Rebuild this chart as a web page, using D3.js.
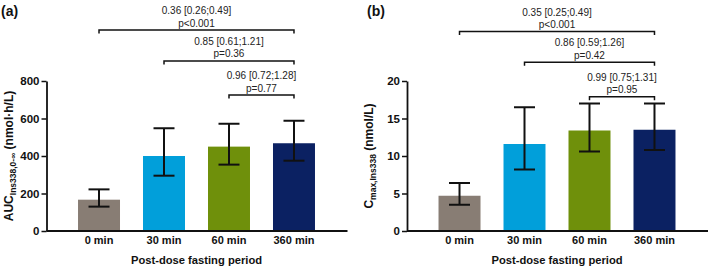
<!DOCTYPE html>
<html>
<head>
<meta charset="utf-8">
<script src="https://cdn.jsdelivr.net/npm/d3@7"></script>
<style>
  html, body { margin: 0; padding: 0; background: #fff; }
  svg { display: block; font-family: "Liberation Sans", Arial, Helvetica, sans-serif; }
</style>
</head>
<body>
<svg id="chart" width="709" height="268"></svg>
<script>
// ---------- DATA ----------
const categories = ["0 min", "30 min", "60 min", "360 min"];
const barColors = ["#887d74", "#019fda", "#6f900b", "#0b2162"];

// Panel (a): AUC
const aucMean  = [167, 400, 450, 468];
const aucLower = [130, 295, 354, 375];
const aucUpper = [222, 548, 572, 588];
const aucTicks = [0, 200, 400, 600, 800];
const aucBrackets = [
  { from: "0 min",  to: "360 min", line1: "0.36 [0.26;0.49]", line2: "p<0.001", level: 1072 },
  { from: "30 min", to: "360 min", line1: "0.85 [0.61;1.21]", line2: "p=0.36",  level: 907 },
  { from: "60 min", to: "360 min", line1: "0.96 [0.72;1.28]", line2: "p=0.77",  level: 725 }
];

// Panel (b): Cmax
const cmaxMean  = [4.7, 11.6, 13.4, 13.5];
const cmaxLower = [3.5, 8.2, 10.6, 10.8];
const cmaxUpper = [6.4, 16.5, 17.0, 17.0];
const cmaxTicks = [0, 5, 10, 15, 20];
const cmaxBrackets = [
  { from: "0 min",  to: "360 min", line1: "0.35 [0.25;0.49]", line2: "p<0.001", level: 26.6 },
  { from: "30 min", to: "360 min", line1: "0.86 [0.59;1.26]", line2: "p=0.42",  level: 22.5 },
  { from: "60 min", to: "360 min", line1: "0.99 [0.75;1.31]", line2: "p=0.95",  level: 17.9 }
];

const xTitle = "Post-dose fasting period";

// ---------- DRAW ----------
const svg = d3.select("#chart");

function panel(opts) {
  const g = svg.append("g");
  const x = d3.scaleBand()
    .domain(categories)
    .range([opts.x0, opts.x0 + 300])
    .paddingInner(0.354)
    .paddingOuter(0.485);
  const y = d3.scaleLinear().domain([0, opts.max]).range([231, 231 - 150]);

  // bars
  g.selectAll("rect.bar").data(categories).join("rect")
    .attr("class", "bar")
    .attr("x", d => x(d))
    .attr("width", x.bandwidth())
    .attr("y", (d, i) => y(opts.mean[i]))
    .attr("height", (d, i) => y(0) - y(opts.mean[i]))
    .attr("fill", (d, i) => barColors[i]);

  // error bars
  const cap = x.bandwidth() / 2;
  const eb = g.selectAll("g.err").data(categories).join("g").attr("class", "err")
    .attr("stroke", "#111").attr("stroke-width", 2).attr("fill", "none");
  eb.append("line")
    .attr("x1", d => x(d) + x.bandwidth() / 2).attr("x2", d => x(d) + x.bandwidth() / 2)
    .attr("y1", (d, i) => y(opts.lower[i])).attr("y2", (d, i) => y(opts.upper[i]));
  eb.append("line")
    .attr("x1", d => x(d) + x.bandwidth() / 2 - cap / 2).attr("x2", d => x(d) + x.bandwidth() / 2 + cap / 2)
    .attr("y1", (d, i) => y(opts.lower[i])).attr("y2", (d, i) => y(opts.lower[i]));
  eb.append("line")
    .attr("x1", d => x(d) + x.bandwidth() / 2 - cap / 2).attr("x2", d => x(d) + x.bandwidth() / 2 + cap / 2)
    .attr("y1", (d, i) => y(opts.upper[i])).attr("y2", (d, i) => y(opts.upper[i]));

  // y axis
  const ya = g.append("g")
    .attr("transform", `translate(${opts.x0},0)`)
    .call(d3.axisLeft(y).tickValues(opts.ticks).tickSize(5).tickPadding(2).tickSizeOuter(0));
  ya.select(".domain").attr("stroke", "#111").attr("stroke-width", 1.8);
  ya.selectAll(".tick line").attr("stroke", "#111").attr("stroke-width", 1.5);
  ya.selectAll(".tick text").attr("font-size", 11.5).attr("font-weight", "bold").attr("fill", "#111")
    .attr("font-family", "'Liberation Sans', Arial, sans-serif");

  // x axis
  const xa = g.append("g")
    .attr("transform", "translate(0,231)")
    .call(d3.axisBottom(x).tickSize(0).tickPadding(5));
  xa.select(".domain").attr("stroke", "#111").attr("stroke-width", 1.8)
    .attr("d", `M${opts.x0},0H${opts.x0 + 301}`);
  xa.selectAll(".tick text").attr("font-size", 11).attr("font-weight", "bold").attr("fill", "#111")
    .attr("font-family", "'Liberation Sans', Arial, sans-serif");

  // x title
  g.append("text")
    .attr("x", (x(categories[0]) + x(categories[3]) + x.bandwidth()) / 2)
    .attr("y", 264)
    .attr("text-anchor", "middle")
    .attr("font-size", 11.2).attr("font-weight", "bold").attr("fill", "#111")
    .text(xTitle);

  // y title
  const yt = g.append("text")
    .attr("transform", `translate(${opts.x0 - 34},${y(opts.max / 2)}) rotate(-90)`)
    .attr("text-anchor", "middle")
    .attr("font-size", 12).attr("font-weight", "bold").attr("fill", "#111");
  yt.append("tspan").text(opts.yMain);
  yt.append("tspan").attr("font-size", 8.5).attr("dy", 3).text(opts.ySub);
  yt.append("tspan").attr("dy", -3).text(" " + opts.yUnit);

  // brackets
  const bg = g.selectAll("g.brk").data(opts.brackets).join("g").attr("class", "brk");
  const cx = d => x(d) + x.bandwidth() / 2;
  bg.append("path")
    .attr("d", b => `M${cx(b.from)},${y(b.level) + 3.5}V${y(b.level)}H${cx(b.to)}V${y(b.level) + 3.5}`)
    .attr("fill", "none").attr("stroke", "#111").attr("stroke-width", 1.5);
  bg.append("text")
    .attr("x", b => (cx(b.from) + cx(b.to)) / 2)
    .attr("y", b => y(b.level) - 16)
    .attr("text-anchor", "middle").attr("font-size", 10).attr("fill", "#222")
    .text(b => b.line1);
  bg.append("text")
    .attr("x", b => (cx(b.from) + cx(b.to)) / 2)
    .attr("y", b => y(b.level) - 3.5)
    .attr("text-anchor", "middle").attr("font-size", 10).attr("fill", "#222")
    .text(b => b.line2);

  // panel label
  g.append("text")
    .attr("x", opts.labelX).attr("y", 16)
    .attr("font-size", 14).attr("font-weight", "bold").attr("fill", "#111")
    .text(opts.label);
}

panel({
  x0: 46.5, max: 800, mean: aucMean, lower: aucLower, upper: aucUpper, ticks: aucTicks,
  brackets: aucBrackets, label: "(a)", labelX: 1,
  yMain: "AUC", ySub: "Ins338,0-\u221E", yUnit: "(nmol\u00B7h/L)"
});
panel({
  x0: 407, max: 20, mean: cmaxMean, lower: cmaxLower, upper: cmaxUpper, ticks: cmaxTicks,
  brackets: cmaxBrackets, label: "(b)", labelX: 367,
  yMain: "C", ySub: "max,Ins338", yUnit: "(nmol/L)"
});
</script>
</body>
</html>
